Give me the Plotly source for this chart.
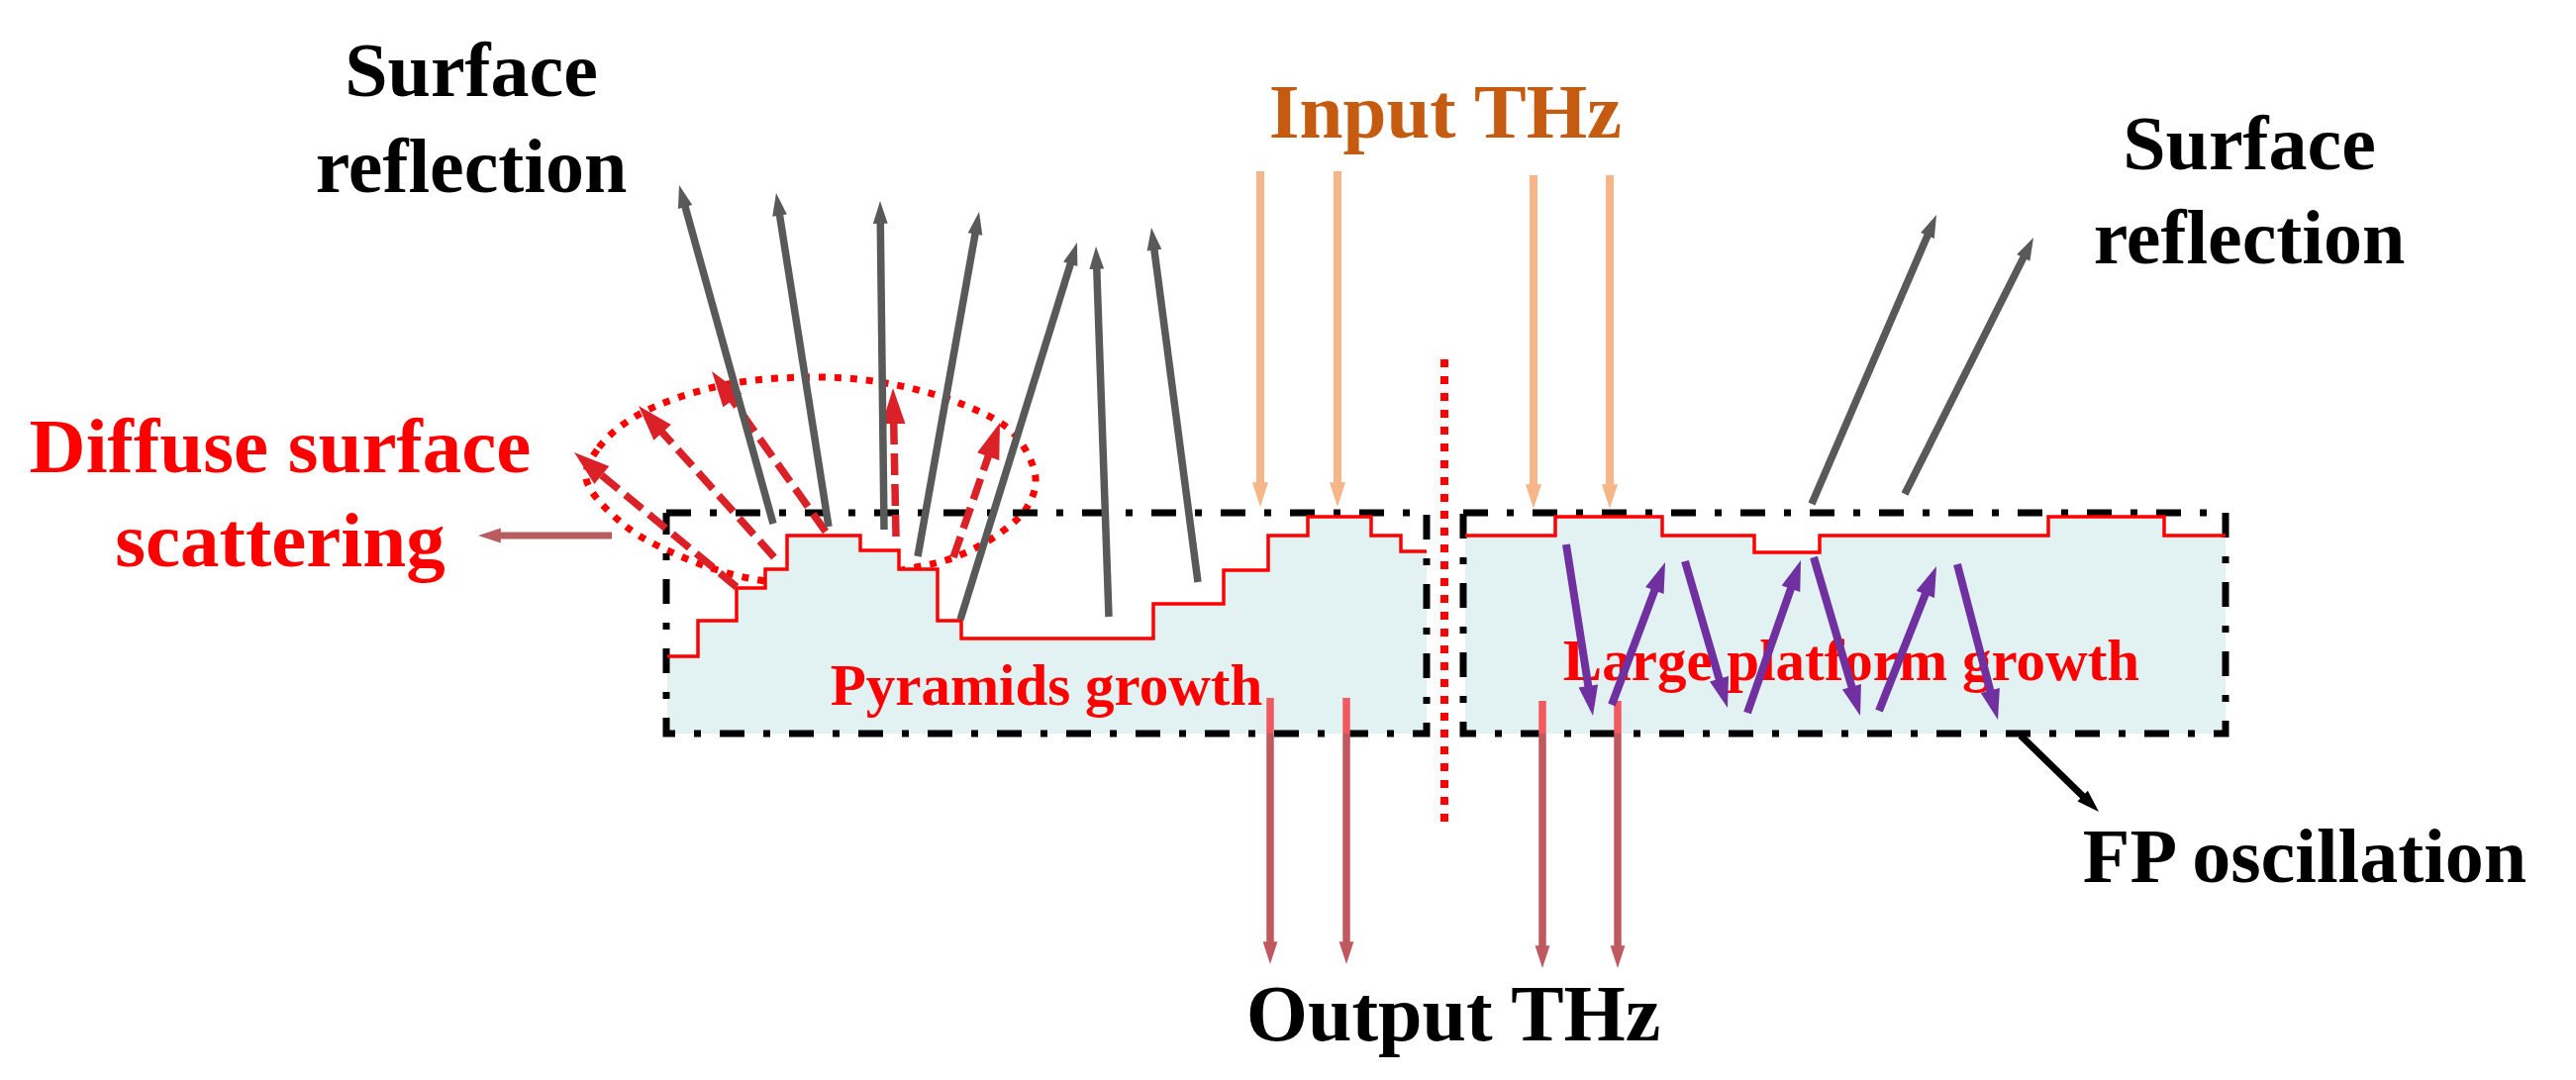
import math
import plotly.graph_objects as go

WIDTH = 2602
HEIGHT = 1091
BOX_BOTTOM = 741

# growth profiles (picture coordinates)
left_step_x = [674, 705, 744, 773, 795, 869, 908, 947, 971, 1165, 1236, 1281, 1321, 1385, 1415, 1441]
left_step_y = [663, 627, 594, 575, 541, 556, 575, 627, 645, 610, 576, 541, 522, 541, 557, 557]
right_step_x = [1480, 1571, 1679, 1772, 1838, 2069, 2186, 2248]
right_step_y = [541, 522, 541, 558, 541, 522, 541, 541]

# dash-dot boxes
left_box_x = [673, 1441, 1441, 673, 673]
right_box_x = [1478, 2248, 2248, 1478, 1478]
box_y = [518, 518, 741, 741, 518]

# dotted outline round the scattering arrows
ellipse_x = [592, 605, 643, 726, 819, 895, 971, 1024, 1046, 1037, 1008, 964, 925, 819, 756, 690, 630, 592]
ellipse_y = [483, 452, 420, 390, 381, 387, 408, 438, 483, 513, 540, 563, 573, 590, 584, 563, 530, 483]
divider_x = [1459, 1459]
divider_y = [363, 830]

# arrows: tail x, tail y, tip x, tip y
gray_arrows = [
    (781, 529, 686, 187), (837, 532, 784, 195), (893, 535, 889, 203),
    (927, 562, 989, 214), (970, 626, 1088, 245), (1120, 623, 1107, 249),
    (1210, 588, 1163, 230), (1830, 509, 1956, 217), (1924, 499, 2054, 240),
]
input_arrows = [(1273, 173, 1273, 512), (1351, 173, 1351, 512), (1549, 177, 1549, 514), (1626, 177, 1626, 514)]
output_top = [(1283, 705), (1360, 705), (1558, 708), (1634, 708)]
output_arrows = [(1283, 741, 1283, 974), (1360, 741, 1360, 974), (1558, 741, 1558, 978), (1634, 741, 1634, 978)]
scatter_arrows = [
    (744, 593, 580, 457), (782, 563, 645, 410), (834, 537, 719, 375),
    (905, 542, 902, 392), (963, 563, 1010, 427),
]
purple_arrows = [
    (1582, 550, 1609, 723), (1628, 712, 1682, 568), (1702, 567, 1745, 715),
    (1765, 720, 1819, 566), (1832, 563, 1879, 723), (1898, 718, 1956, 572),
    (1977, 570, 2018, 727),
]
pointer_arrow = (618, 541, 483, 541)
fp_arrow = (2041, 743, 2120, 820)

# text: label, x, y, size, colour
labels = [
    ("Surface", 476, 77, 78, "black"),
    ("reflection", 476, 174, 78, "black"),
    ("Diffuse surface", 283, 457, 79, "#ff0000"),
    ("scattering", 283, 552, 79, "#ff0000"),
    ("Input THz", 1460, 119, 79, "#c55a11"),
    ("Surface", 2272, 151, 78, "black"),
    ("reflection", 2272, 246, 78, "black"),
    ("FP oscillation", 2328, 871, 78, "black"),
    ("Output THz", 1468, 1031, 80, "black"),
    ("Pyramids growth", 1057, 697, 59, "#ff0000"),
    ("Large platform growth", 1870, 672, 59, "#ff0000"),
]

fig = go.Figure()


def add_line(x, y, color, width, dash="solid", shape="linear"):
    fig.add_trace(go.Scatter(x=x, y=y, mode="lines", hoverinfo="skip",
                             line=dict(color=color, width=width, dash=dash, shape=shape)))


def add_arrow(a, color, width, head, dash="solid"):
    x0, y0, x1, y1 = a
    dist = math.hypot(x1 - x0, y1 - y0)
    k = 1 - 0.75 * head / dist
    add_line([x0, x0 + (x1 - x0) * k], [y0, y0 + (y1 - y0) * k], color, width, dash)
    fig.add_trace(go.Scatter(x=[x0, x1], y=[y0, y1], mode="markers", hoverinfo="skip",
                             marker=dict(symbol="arrow", size=[0, head], color=color, opacity=1,
                                         angleref="previous", line=dict(width=0))))


add_line(ellipse_x, ellipse_y, "#ff0000", 7, "7px,9px", "spline")

for sx, sy in [(left_step_x, left_step_y), (right_step_x, right_step_y)]:
    fig.add_trace(go.Scatter(x=sx + [sx[-1], sx[0]], y=sy + [BOX_BOTTOM, BOX_BOTTOM], mode="none",
                             fill="toself", fillcolor="#e2f1f2", hoverinfo="skip",
                             line=dict(shape="hv")))

for bx in [left_box_x, right_box_x]:
    add_line(bx, box_y, "black", 7, "25px,19px,7px,19px")

add_line(left_step_x, left_step_y, "#ff0000", 3.5, shape="hv")
add_line(right_step_x, right_step_y, "#ff0000", 3.5, shape="hv")
add_line(divider_x, divider_y, "#ff0000", 8, "8px,9px")

for text, x, y, size, color in labels:
    fig.add_trace(go.Scatter(x=[x], y=[y], mode="text", text=[text], hoverinfo="skip",
                             textposition="middle center",
                             textfont=dict(family="Liberation Serif", size=size, color=color, weight="bold")))

for a in scatter_arrows:
    add_arrow(a, "#db2128", 7.5, 38, "22px,9px")
for a in gray_arrows:
    add_arrow(a, "#595959", 7.5, 24)
for a in input_arrows:
    add_arrow(a, "#f6b68a", 8, 26)
for (tx, ty), a in zip(output_top, output_arrows):
    add_line([tx, tx], [ty, a[1]], "#f05a5f", 7.5)
    add_arrow(a, "#c0595f", 7.5, 24)
for a in purple_arrows:
    add_arrow(a, "#7030a0", 8, 32)
add_arrow(pointer_arrow, "#b85c5f", 7, 24)
add_arrow(fp_arrow, "black", 7, 24)

fig.update_layout(width=WIDTH, height=HEIGHT, showlegend=False,
                  margin=dict(l=0, r=0, t=0, b=0),
                  plot_bgcolor="white", paper_bgcolor="white",
                  xaxis=dict(range=[0, WIDTH], visible=False),
                  yaxis=dict(range=[HEIGHT, 0], visible=False))
fig.write_html("out.html", config={"displayModeBar": False},
               post_script="document.body.style.margin='0';")
